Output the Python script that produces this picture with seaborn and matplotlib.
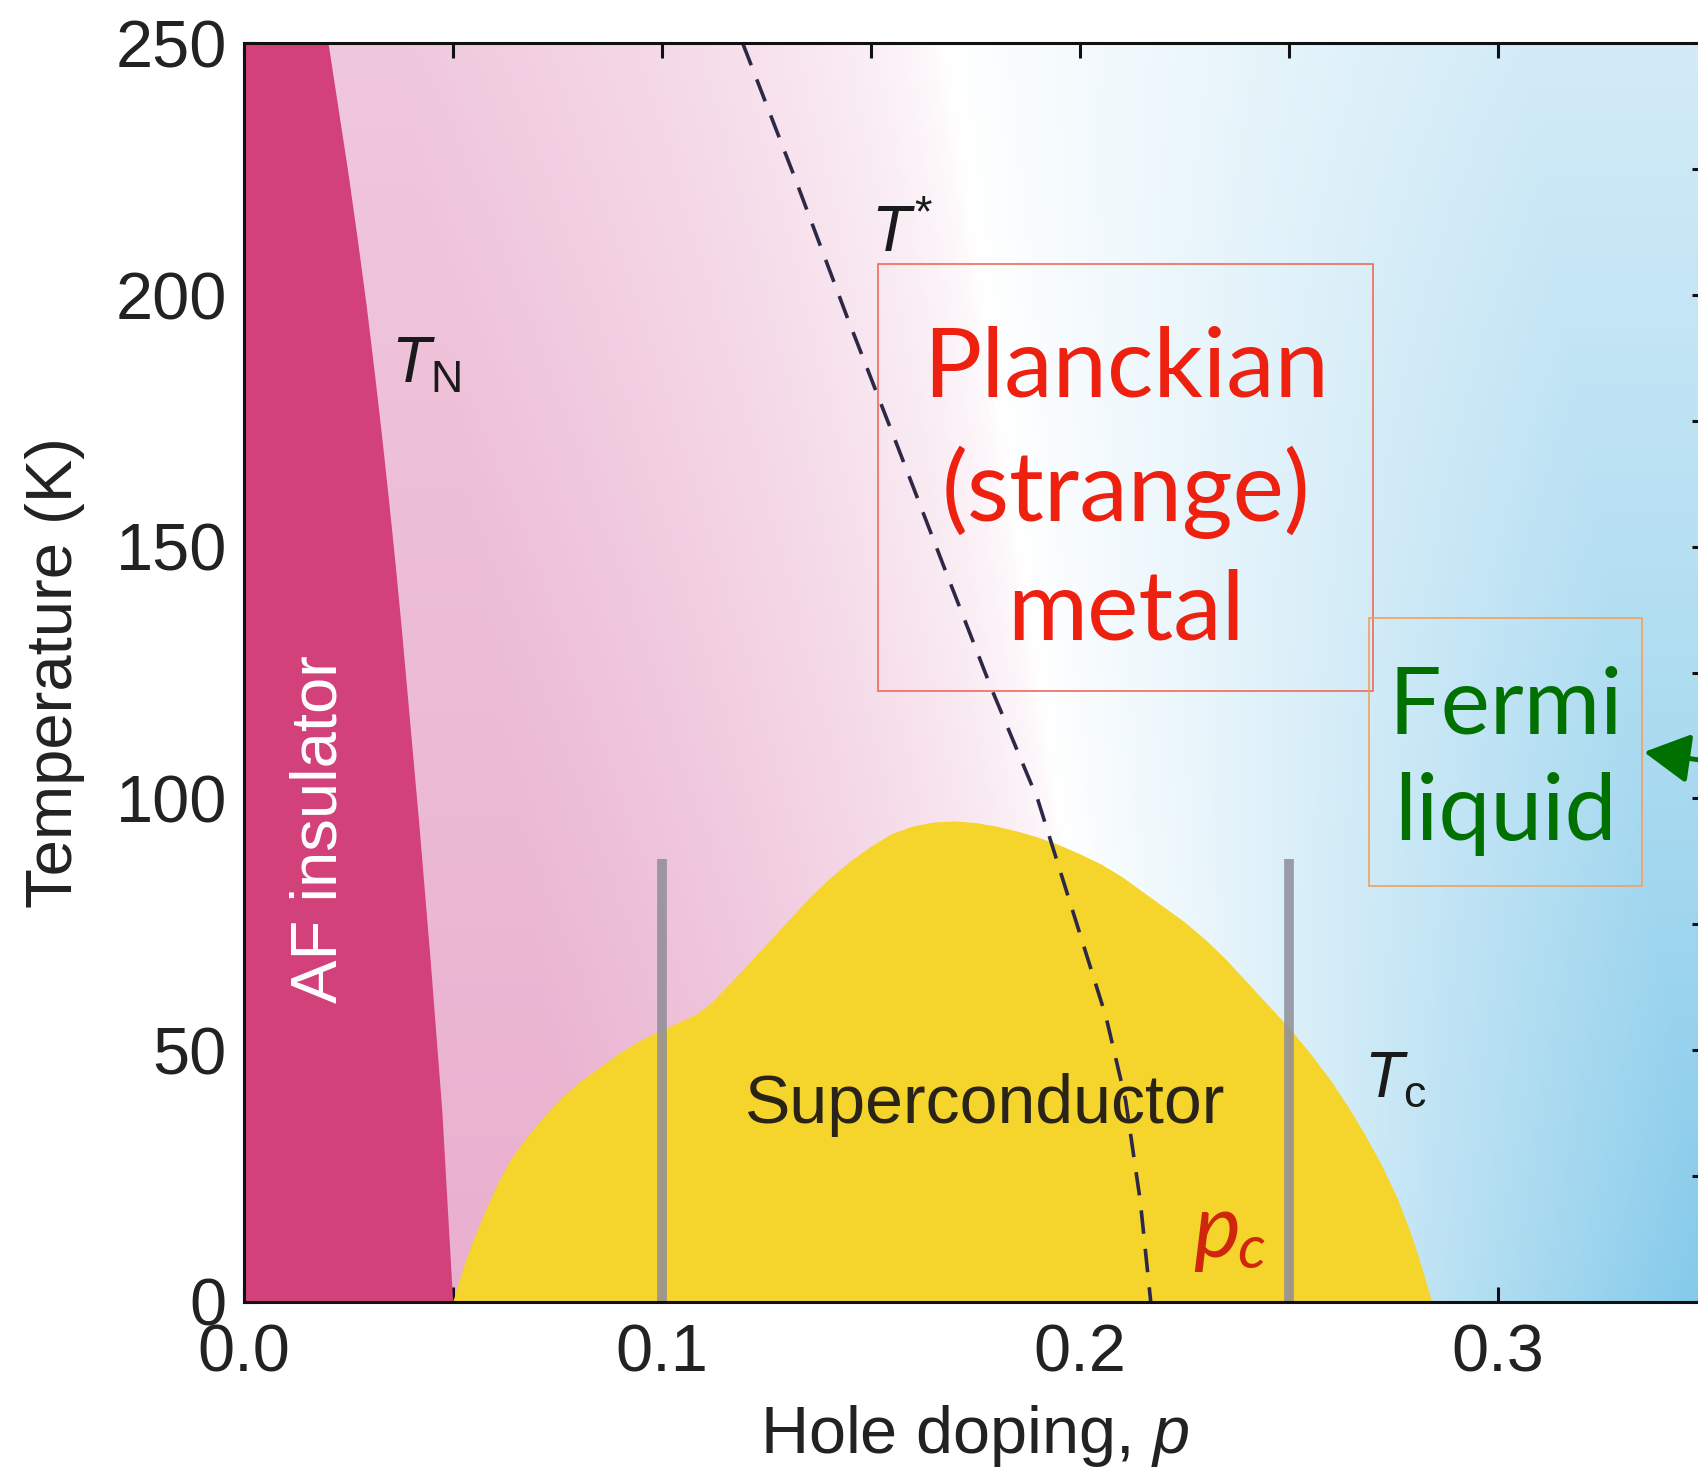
import numpy as np
import matplotlib
matplotlib.use('Agg')
import matplotlib.pyplot as plt
import seaborn as sns
from matplotlib.patches import Rectangle
from matplotlib.ticker import MultipleLocator, FormatStrFormatter

sns.set_style('ticks')
plt.rcParams['font.family'] = ['Liberation Sans', 'DejaVu Sans']
plt.rcParams['mathtext.fontset'] = 'custom'
plt.rcParams['mathtext.rm'] = 'Liberation Sans'
plt.rcParams['mathtext.it'] = 'Liberation Sans:italic'

# Neel line T_N (edge of AF insulator)
tn_p = [0.0202, 0.0226, 0.0250, 0.0272, 0.0293, 0.0312, 0.0330, 0.0347, 0.0363,
        0.0378, 0.0392, 0.0406, 0.0420, 0.0433, 0.0446, 0.0460, 0.0474, 0.0487, 0.0500]
tn_T = [250, 237, 224, 211, 198, 185, 172, 159, 146,
        133, 120, 107, 94, 81, 68, 53, 38, 19, 0]

# superconducting dome T_c
dome_p = [0.050, 0.0515, 0.053, 0.055, 0.058, 0.061, 0.064, 0.068, 0.072, 0.076,
          0.080, 0.085, 0.090, 0.095, 0.100, 0.104, 0.108, 0.112, 0.116, 0.120,
          0.125, 0.130, 0.135, 0.140, 0.145, 0.150, 0.155, 0.160, 0.165, 0.170,
          0.175, 0.180, 0.185, 0.190, 0.195, 0.200, 0.205, 0.210, 0.215, 0.220,
          0.225, 0.230, 0.235, 0.240, 0.245, 0.250, 0.255, 0.260, 0.264, 0.268,
          0.272, 0.276, 0.279, 0.281, 0.2828, 0.2842]
dome_T = [0, 4, 8, 12.5, 18.5, 24, 28.5, 33, 37, 40.5,
          43.5, 46.5, 49.5, 52, 54, 55.5, 57, 59.5, 63, 66.5,
          71, 75.5, 80, 84, 87.5, 90.5, 93, 94.5, 95.3, 95.5,
          95.2, 94.5, 93.5, 92.3, 90.8, 89, 87, 84.5, 81.5, 78.5,
          75.5, 72, 68, 63.5, 59, 54.5, 49.5, 44, 39, 33.5,
          27.5, 20.5, 14, 9, 4, 0]

# pseudogap line T*
tstar_p = [0.1194, 0.1320, 0.1442, 0.1564, 0.1680, 0.1788, 0.1900, 0.1982, 0.2063, 0.2110, 0.2145, 0.2170]
tstar_T = [250, 223, 196, 170, 145, 122, 99.7, 78, 56.6, 40, 20, 0]

# doping values of the two vertical grey bars
bar_p = [0.10, 0.25]
bar_top = 88

fig = plt.figure(figsize=(16.98, 14.75), dpi=100)
ax = fig.add_axes([0.1435, 0.1175, 0.8616, 0.8531])

# background: pink -> white -> blue shading
pp, TT = np.meshgrid(np.linspace(0, 0.35, 400), np.linspace(0, 250, 300))
d = pp - (0.212 - 0.045 * TT / 250)
pink = np.array([0.915, 0.69, 0.81])
blue = np.array([0.50, 0.785, 0.915])
w_pink = np.clip(-d / 0.13, 0, 1) ** 0.6 * (1 - 0.3 * TT / 250)
w_blue = np.clip(d / 0.14, 0, 1) * (1 - 0.65 * (TT / 250) ** 0.8)
img = np.ones(pp.shape + (3,))
img += w_pink[..., None] * (pink - 1) + w_blue[..., None] * (blue - 1)
ax.imshow(img, extent=[0, 0.35, 0, 250], origin='lower', aspect='auto', zorder=0)

# regions
ax.fill_betweenx(tn_T, 0, tn_p, color='#d3417a', lw=0, zorder=1)
ax.fill_between(dome_p, 0, dome_T, color='#f5d42c', lw=0, zorder=2)
for bp in bar_p:
    ax.plot([bp, bp], [0, bar_top], color='#8e8e98', lw=7, alpha=0.85,
            solid_capstyle='butt', zorder=3)

sns.lineplot(x=tstar_p, y=tstar_T, ax=ax, color='#2c2846', lw=2.6,
             linestyle='--', estimator=None, sort=False, zorder=4)
ax.lines[-1].set_dashes((6.5, 4.2))

ax.set_xlim(0, 0.35)
ax.set_ylim(0, 250)
ax.xaxis.set_major_locator(MultipleLocator(0.1))
ax.xaxis.set_minor_locator(MultipleLocator(0.05))
ax.xaxis.set_major_formatter(FormatStrFormatter('%.1f'))
ax.yaxis.set_major_locator(MultipleLocator(50))
ax.yaxis.set_minor_locator(MultipleLocator(25))
ax.tick_params(which='both', direction='in', top=True, right=True,
               length=11, width=2.2, color='#111111')
ax.tick_params(labelsize=48, labelcolor='#222222', pad=12)
ax.tick_params(axis='x', pad=16)
for s in ax.spines.values():
    s.set_linewidth(2.2)
    s.set_color('#111111')
    s.set_zorder(6)

ax.set_xlabel('Hole doping, $\\it{p}$', fontsize=48, color='#222222', labelpad=12)
ax.set_ylabel('Temperature (K)', fontsize=47, color='#222222', labelpad=22)

# labels on the diagram
ax.text(0.0182, 94, 'AF insulator', rotation=90, color='white', fontsize=47,
        ha='center', va='center', zorder=5)
ax.text(0.1775, 39, 'Superconductor', color='#2a2418', fontsize=49,
        ha='center', va='center', zorder=5)
ax.text(0.0435, 186, '$T_{\\mathrm{N}}$', color='#1a1a1a', fontsize=46,
        ha='center', va='center', zorder=5)
ax.text(0.1575, 212, '$T^{*}$', color='#1a1a1a', fontsize=46,
        ha='center', va='center', zorder=5)
ax.text(0.2755, 44, '$T_{\\mathrm{c}}$', color='#1a1a1a', fontsize=46,
        ha='center', va='center', zorder=5)
ax.text(0.2328, 14, 'p', family='Lato', style='italic', color='#d0260c',
        fontsize=64, ha='center', va='center', zorder=5)
ax.text(0.2410, 10, 'c', family='Lato', style='italic', color='#d0260c',
        fontsize=44, ha='center', va='center', zorder=5)

# annotation boxes
ax.add_patch(Rectangle((0.1518, 121.3), 0.1184, 84.9, fill=False,
                       edgecolor='#f06a5a', lw=1.2, zorder=5))
ax.text(0.211, 161.0, 'Planckian\n(strange)\nmetal', family='Lato', color='#ee2010',
        fontsize=70, ha='center', va='center', linespacing=1.42, zorder=5)
ax.add_patch(Rectangle((0.2693, 82.6), 0.0652, 53.2, fill=False,
                       edgecolor='#f0a060', lw=1.2, zorder=5))
ax.text(0.3019, 107.5, 'Fermi\nliquid', family='Lato', color='#007000',
        fontsize=67, ha='center', va='center', linespacing=1.34, zorder=5)
ax.annotate('', xy=(0.3350, 109.2), xytext=(0.362, 106), annotation_clip=False,
            arrowprops=dict(arrowstyle='-|>,head_length=0.7,head_width=0.38',
                            color='#007000', lw=3.5, mutation_scale=40,
                            shrinkA=0, shrinkB=0), zorder=6)

fig.savefig('out.png', dpi=100)
